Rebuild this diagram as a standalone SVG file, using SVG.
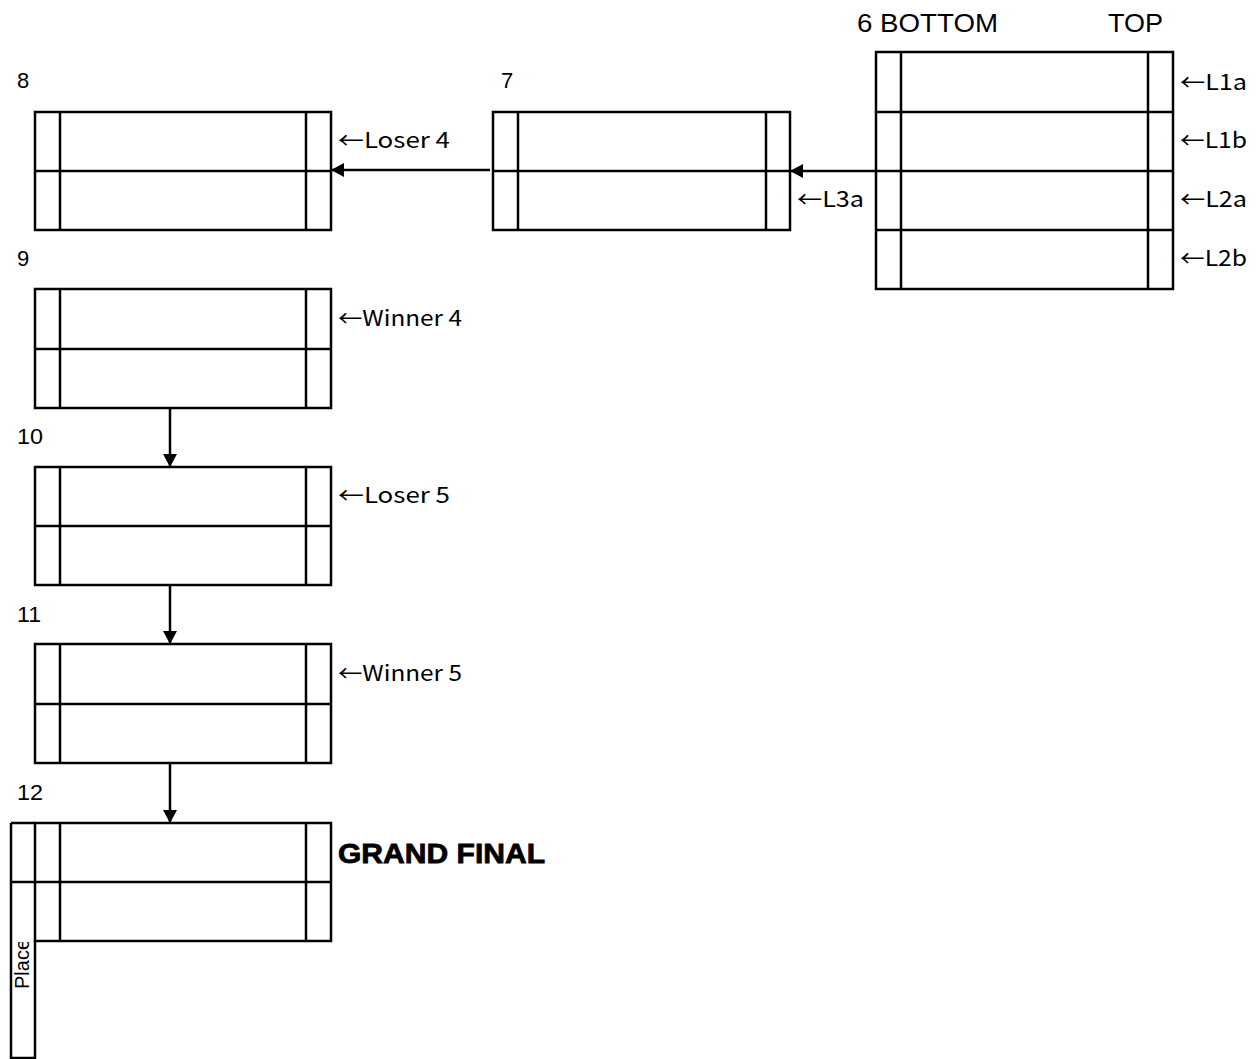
<svg xmlns="http://www.w3.org/2000/svg" width="1257" height="1059" viewBox="0 0 1257 1059">
<style>
.b{fill:none;stroke:#000;stroke-width:2.5}
.l{stroke:#000;stroke-width:2.5;fill:none}
.t{font-family:"Noto Sans CJK JP","Liberation Sans",sans-serif;font-size:22px;fill:#000}
.n{font-family:"Liberation Sans","Noto Sans CJK JP",sans-serif;font-size:22px;fill:#000}
.p{font-family:"Liberation Sans",sans-serif;font-size:20px;fill:#000}
.h{font-family:"Liberation Sans","Noto Sans CJK JP",sans-serif;font-size:25px;fill:#000}
.g{font-family:"Liberation Sans",sans-serif;font-size:28px;font-weight:bold;fill:#000;stroke:#000;stroke-width:0.8}
</style>
<defs>
<marker id="ah" markerUnits="userSpaceOnUse" markerWidth="14" markerHeight="14" refX="13" refY="7" orient="auto">
<path d="M0,0 L13,7 L0,14 Z" fill="#000"/>
</marker>
<clipPath id="pc"><rect x="11" y="942" width="24" height="116"/></clipPath>
</defs>
<rect width="1257" height="1059" fill="#fff"/>

<g id="node6">
<rect class="b" x="876" y="52" width="297" height="237"/>
<path class="l" d="M876,112H1173M876,171H1173M876,230H1173M901,52V289M1148,52V289"/>
<text class="h" x="857" y="32" textLength="141" lengthAdjust="spacingAndGlyphs">6 BOTTOM</text>
<text class="h" x="1108" y="32" textLength="55" lengthAdjust="spacingAndGlyphs">TOP</text>
<text class="t" x="1180" y="90" textLength="67" lengthAdjust="spacingAndGlyphs">←L1a</text>
<text class="t" x="1180" y="148" textLength="67" lengthAdjust="spacingAndGlyphs">←L1b</text>
<text class="t" x="1180" y="207" textLength="67" lengthAdjust="spacingAndGlyphs">←L2a</text>
<text class="t" x="1180" y="266" textLength="67" lengthAdjust="spacingAndGlyphs">←L2b</text>
</g>

<g id="node7">
<rect class="b" x="493" y="112" width="297" height="118"/>
<path class="l" d="M493,171H790M518,112V230M766,112V230"/>
<text class="n" x="501" y="88">7</text>
<text class="t" x="797" y="207" textLength="67" lengthAdjust="spacingAndGlyphs">←L3a</text>
</g>

<g id="node8">
<rect class="b" x="35" y="112" width="296" height="118"/>
<path class="l" d="M35,171H331M60,112V230M306,112V230"/>
<text class="n" x="17" y="88">8</text>
<text class="t" x="338" y="148" textLength="112" lengthAdjust="spacingAndGlyphs">←Loser 4</text>
</g>

<g id="node9">
<rect class="b" x="35" y="289" width="296" height="119"/>
<path class="l" d="M35,349H331M60,289V408M306,289V408"/>
<text class="n" x="17" y="266">9</text>
<text class="t" x="338" y="326" textLength="124" lengthAdjust="spacingAndGlyphs">←Winner 4</text>
</g>

<g id="node10">
<rect class="b" x="35" y="467" width="296" height="118"/>
<path class="l" d="M35,526H331M60,467V585M306,467V585"/>
<text class="n" x="17" y="444" textLength="26" lengthAdjust="spacingAndGlyphs">10</text>
<text class="t" x="338" y="503" textLength="112" lengthAdjust="spacingAndGlyphs">←Loser 5</text>
</g>

<g id="node11">
<rect class="b" x="35" y="644" width="296" height="119"/>
<path class="l" d="M35,704H331M60,644V763M306,644V763"/>
<text class="n" x="17" y="622" textLength="24" lengthAdjust="spacingAndGlyphs">11</text>
<text class="t" x="338" y="681" textLength="124" lengthAdjust="spacingAndGlyphs">←Winner 5</text>
</g>

<g id="node12">
<rect class="b" x="35" y="823" width="296" height="118"/>
<path class="l" d="M11,823H35M11,882H331M11,823V1058H35V941M60,823V941M306,823V941"/>
<text class="n" x="17" y="800" textLength="26" lengthAdjust="spacingAndGlyphs">12</text>
<text class="g" x="338" y="863" textLength="207" lengthAdjust="spacingAndGlyphs">GRAND FINAL</text>
<g clip-path="url(#pc)">
<text class="p" transform="translate(29,989) rotate(-90)">Place</text>
</g>
</g>

<g id="connectors">
<path class="l" d="M876,171H790" marker-end="url(#ah)"/>
<path class="l" d="M490,170H331" marker-end="url(#ah)"/>
<path class="l" d="M170,408V467" marker-end="url(#ah)"/>
<path class="l" d="M170,585V644" marker-end="url(#ah)"/>
<path class="l" d="M170,763V823" marker-end="url(#ah)"/>
</g>
</svg>
